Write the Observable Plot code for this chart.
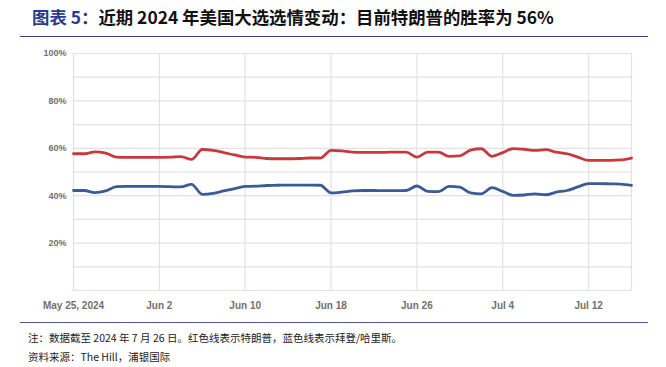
<!DOCTYPE html>
<html><head><meta charset="utf-8">
<script src="https://cdn.jsdelivr.net/npm/d3@7"></script>
<script src="https://cdn.jsdelivr.net/npm/@observablehq/plot@0.6"></script>
<style>
body{margin:0;background:#fff;width:666px;height:367px;overflow:hidden;position:relative;font-family:"Noto Sans CJK SC",sans-serif}
#title{position:absolute;left:32px;top:5px;font-size:17.4px;font-weight:bold;color:#111;white-space:nowrap;line-height:24px}
#title .lead{color:#2b3a8c}
#rule1{position:absolute;left:20px;top:36px;width:628px;height:0;border-top:1.5px solid #3d3d8f}
#chart{position:absolute;left:0;top:40px}
#rule2{position:absolute;left:20px;top:322px;width:628px;height:0;border-top:1.5px solid #4a5a9a}
.note{position:absolute;left:28px;font-size:10.5px;color:#222;white-space:nowrap;line-height:14px}
</style></head><body>
<div id="title"><span class="lead">图表 5：</span>近期 2024 年美国大选选情变动：目前特朗普的胜率为 56%</div>
<div id="rule1"></div>
<div id="chart"></div>
<div id="rule2"></div>
<div class="note" style="top:331px">注：数据截至 2024 年 7 月 26 日。红色线表示特朗普，蓝色线表示拜登/哈里斯。</div>
<div class="note" style="top:350px">资料来源：The Hill，浦银国际</div>
<script>
const startDate = "2024-05-25";
const endDate = "2024-07-16";
const trump = [57.7,57.7,58.5,58.0,56.3,56.2,56.2,56.2,56.2,56.3,56.5,55.3,59.5,59.1,58.2,57.2,56.3,56.2,55.7,55.6,55.6,55.7,55.9,55.9,59.1,58.9,58.4,58.3,58.3,58.3,58.4,58.4,56.3,58.4,58.4,56.6,56.8,59.2,59.8,56.6,58.2,59.9,59.6,59.1,59.4,58.4,57.7,56.3,54.9,54.9,54.9,55.1,55.9];
const biden = [42.2,42.2,41.3,42.0,43.8,43.9,43.9,43.9,43.9,43.8,43.7,44.8,40.6,41.0,42.0,43.0,43.9,44.0,44.3,44.4,44.5,44.5,44.5,44.4,41.2,41.5,42.0,42.2,42.2,42.1,42.1,42.2,44.1,41.8,41.7,43.9,43.6,41.2,40.8,43.4,41.8,40.1,40.3,40.8,40.4,41.5,42.2,43.7,45.1,45.1,45.0,44.9,44.4];
const xTickDates = ["2024-05-25","2024-06-02","2024-06-10","2024-06-18","2024-06-26","2024-07-04","2024-07-12"];
const xTickLabels = ["May 25, 2024","Jun 2","Jun 10","Jun 18","Jun 26","Jul 4","Jul 12"];
const yGridValues = [10,20,30,40,50,60,70,80,90,100];
const yTickValues = [20,40,60,80,100];
const yTickLabels = ["20%","40%","60%","80%","100%"];

const t0 = new Date(startDate), t1 = new Date(endDate);
const dates = d3.utcDay.range(t0, d3.utcDay.offset(t1, 1));
const rows = dates.map((date, i) => ({date, trump: trump[i], biden: biden[i]}));
const xTicks = xTickDates.map(d => new Date(d));
const xLab = new Map(xTicks.map((d, i) => [+d, xTickLabels[i]]));
const yLab = new Map(yTickValues.map((v, i) => [v, yTickLabels[i]]));
const gridColor = "#e2e2e2";

const chart = Plot.plot({
  width: 666, height: 280,
  marginLeft: 73, marginRight: 35, marginTop: 13, marginBottom: 30,
  x: {type: "utc", domain: [t0, t1]},
  y: {domain: [0, 100]},
  style: {fontFamily: "'Liberation Sans', Arial, sans-serif", fontSize: "10px", color: "#707070", fontWeight: "bold", background: "transparent"},
  marks: [
    Plot.gridY(yGridValues, {stroke: gridColor, strokeOpacity: 1, strokeWidth: 1.2}),
    Plot.gridX(xTicks, {stroke: gridColor, strokeOpacity: 1, strokeWidth: 1.2}),
    Plot.ruleX([t1], {stroke: gridColor, strokeWidth: 1.2}),
    Plot.ruleY([0], {stroke: gridColor, strokeWidth: 1.2}),
    Plot.axisY(yTickValues, {tickSize: 0, tickPadding: 7, fontSize: 9, tickFormat: v => yLab.get(v)}),
    Plot.axisX(xTicks, {tickSize: 0, tickPadding: 11, tickFormat: d => xLab.get(+d)}),
    Plot.line(rows, {x: "date", y: "trump", stroke: "#c8393e", strokeWidth: 2.8, curve: "monotone-x"}),
    Plot.line(rows, {x: "date", y: "biden", stroke: "#3b5b95", strokeWidth: 2.8, curve: "monotone-x"})
  ]
});
document.getElementById("chart").appendChild(chart);
</script>
</body></html>
